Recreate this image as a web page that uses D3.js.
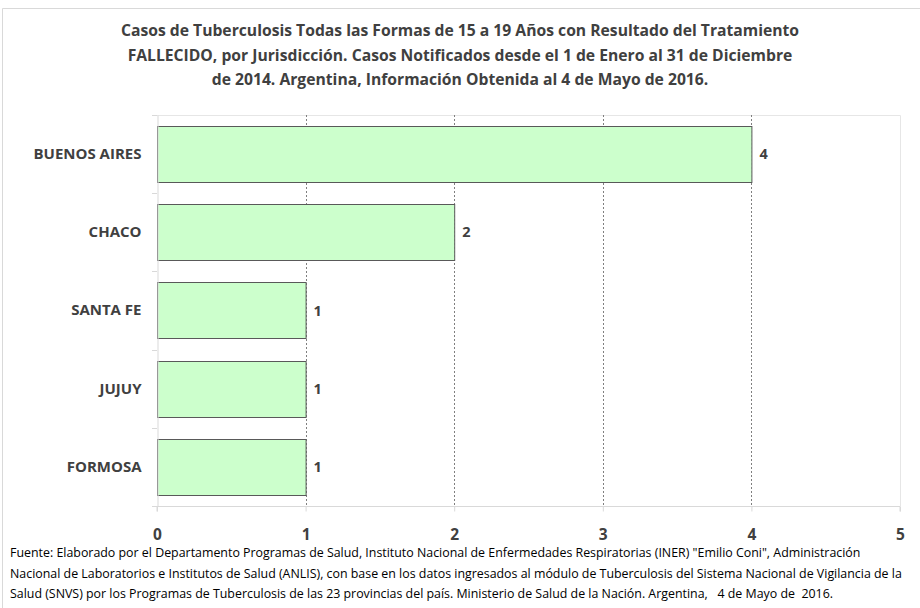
<!DOCTYPE html>
<html><head><meta charset="utf-8">
<script src="https://cdn.jsdelivr.net/npm/d3@7"></script>
<style>body{margin:0;background:#fff}svg{display:block}</style>
</head><body>
<script>
const categories = ["BUENOS AIRES","CHACO","SANTA FE","JUJUY","FORMOSA"];
const values = [4,2,1,1,1];
const xTicks = [0,1,2,3,4,5];
const titleLines = [
  "Casos de Tuberculosis Todas las Formas de 15 a 19 Años con Resultado del Tratamiento",
  "FALLECIDO, por Jurisdicción. Casos Notificados desde el 1 de Enero al 31 de Diciembre",
  "de 2014. Argentina, Información Obtenida al 4 de Mayo de 2016."
];
const footLines = [
  "Fuente: Elaborado por el Departamento Programas de Salud, Instituto Nacional de Enfermedades Respiratorias (INER) \"Emilio Coni\", Administración",
  "Nacional de Laboratorios e Institutos de Salud (ANLIS), con base en los datos ingresados al módulo de Tuberculosis del Sistema Nacional de Vigilancia de la",
  "Salud (SNVS) por los Programas de Tuberculosis de las 23 provincias del país. Ministerio de Salud de la Nación. Argentina,   4 de Mayo de  2016."
];

const W=920,H=608;
const FONT="'Open Sans', 'Liberation Sans', sans-serif";
const svg=d3.select("body").append("svg").attr("width",W).attr("height",H);
svg.append("rect").attr("width",W).attr("height",H).attr("fill","#fff");
// outer frame
svg.append("path").attr("d","M2.5,620V8.5H930").attr("fill","none").attr("stroke","#d9d9d9");

const L=157,R=900,T=115,B=506;
const x=d3.scaleLinear().domain([0,5]).range([L,R]);
const y=d3.scaleBand().domain(categories).range([T,B]).paddingInner(0.28).paddingOuter(0.14);

// plot border
svg.append("path").attr("d",`M${L},${T+0.5}H${R+0.5}V${B}`).attr("fill","none").attr("stroke","#e6e6e6");
// gridlines
svg.append("g").selectAll("line").data(xTicks.filter(d=>d>0&&d<5)).join("line")
  .attr("x1",d=>Math.round(x(d))+0.5).attr("x2",d=>Math.round(x(d))+0.5)
  .attr("y1",T).attr("y2",B)
  .attr("stroke","#7f7f7f").attr("stroke-dasharray","2,2");

// bars
svg.append("g").selectAll("rect").data(values).join("rect")
  .attr("x",L+0.5).attr("y",(d,i)=>Math.round(y(categories[i]))+0.5)
  .attr("width",d=>x(d)-L).attr("height",Math.round(y.bandwidth()))
  .attr("fill","#ccffcc").attr("stroke","#595959").attr("stroke-width",1);

// value labels
svg.append("g").selectAll("text").data(values).join("text")
  .attr("x",d=>x(d)+8).attr("y",(d,i)=>y(categories[i])+y.bandwidth()/2)
  .attr("dy","0.35em").text(d=>d)
  .attr("font-family",FONT).attr("font-weight","bold").attr("font-size",14.5).attr("fill","#404040");

// y axis
const ya=svg.append("g").attr("transform",`translate(${L+0.5},0)`)
  .call(d3.axisLeft(y).tickSize(0).tickPadding(16));
ya.select(".domain").attr("stroke","#d9d9d9");
ya.selectAll("text").attr("font-family",FONT).attr("font-weight","bold").attr("font-size",15).attr("fill","#404040");
// category boundary ticks
svg.append("g").selectAll("line").data(d3.range(6).map(i=>T+i*(B-T)/5)).join("line")
  .attr("x1",L-5).attr("x2",L).attr("y1",d=>Math.round(d)+0.5).attr("y2",d=>Math.round(d)+0.5)
  .attr("stroke","#d9d9d9");

// x axis
const xa=svg.append("g").attr("transform",`translate(0,${B+0.5})`)
  .call(d3.axisBottom(x).tickValues(xTicks).tickFormat(d3.format("d")).tickSize(5).tickPadding(17));
xa.select(".domain").attr("stroke","#d9d9d9").attr("d",`M${L},5V0H${R}V5`);
xa.selectAll(".tick line").attr("stroke","#d9d9d9");
xa.selectAll("text").attr("font-family",FONT).attr("font-weight","bold").attr("font-size",15.5).attr("fill","#404040");

// title
svg.append("g").selectAll("text").data(titleLines).join("text")
  .attr("x",460).attr("y",(d,i)=>36+i*24.5).attr("text-anchor","middle")
  .attr("font-family",FONT).attr("font-weight","bold").attr("font-size",15.7).attr("fill","#404040")
  .text(d=>d);

// footnote
svg.append("g").selectAll("text").data(footLines).join("text")
  .attr("x",10).attr("y",(d,i)=>557+i*20.5)
  .attr("xml:space","preserve").style("white-space","pre")
  .attr("font-family",FONT).attr("font-size",12.4).attr("fill","#000")
  .text(d=>d);
</script>
</body></html>
